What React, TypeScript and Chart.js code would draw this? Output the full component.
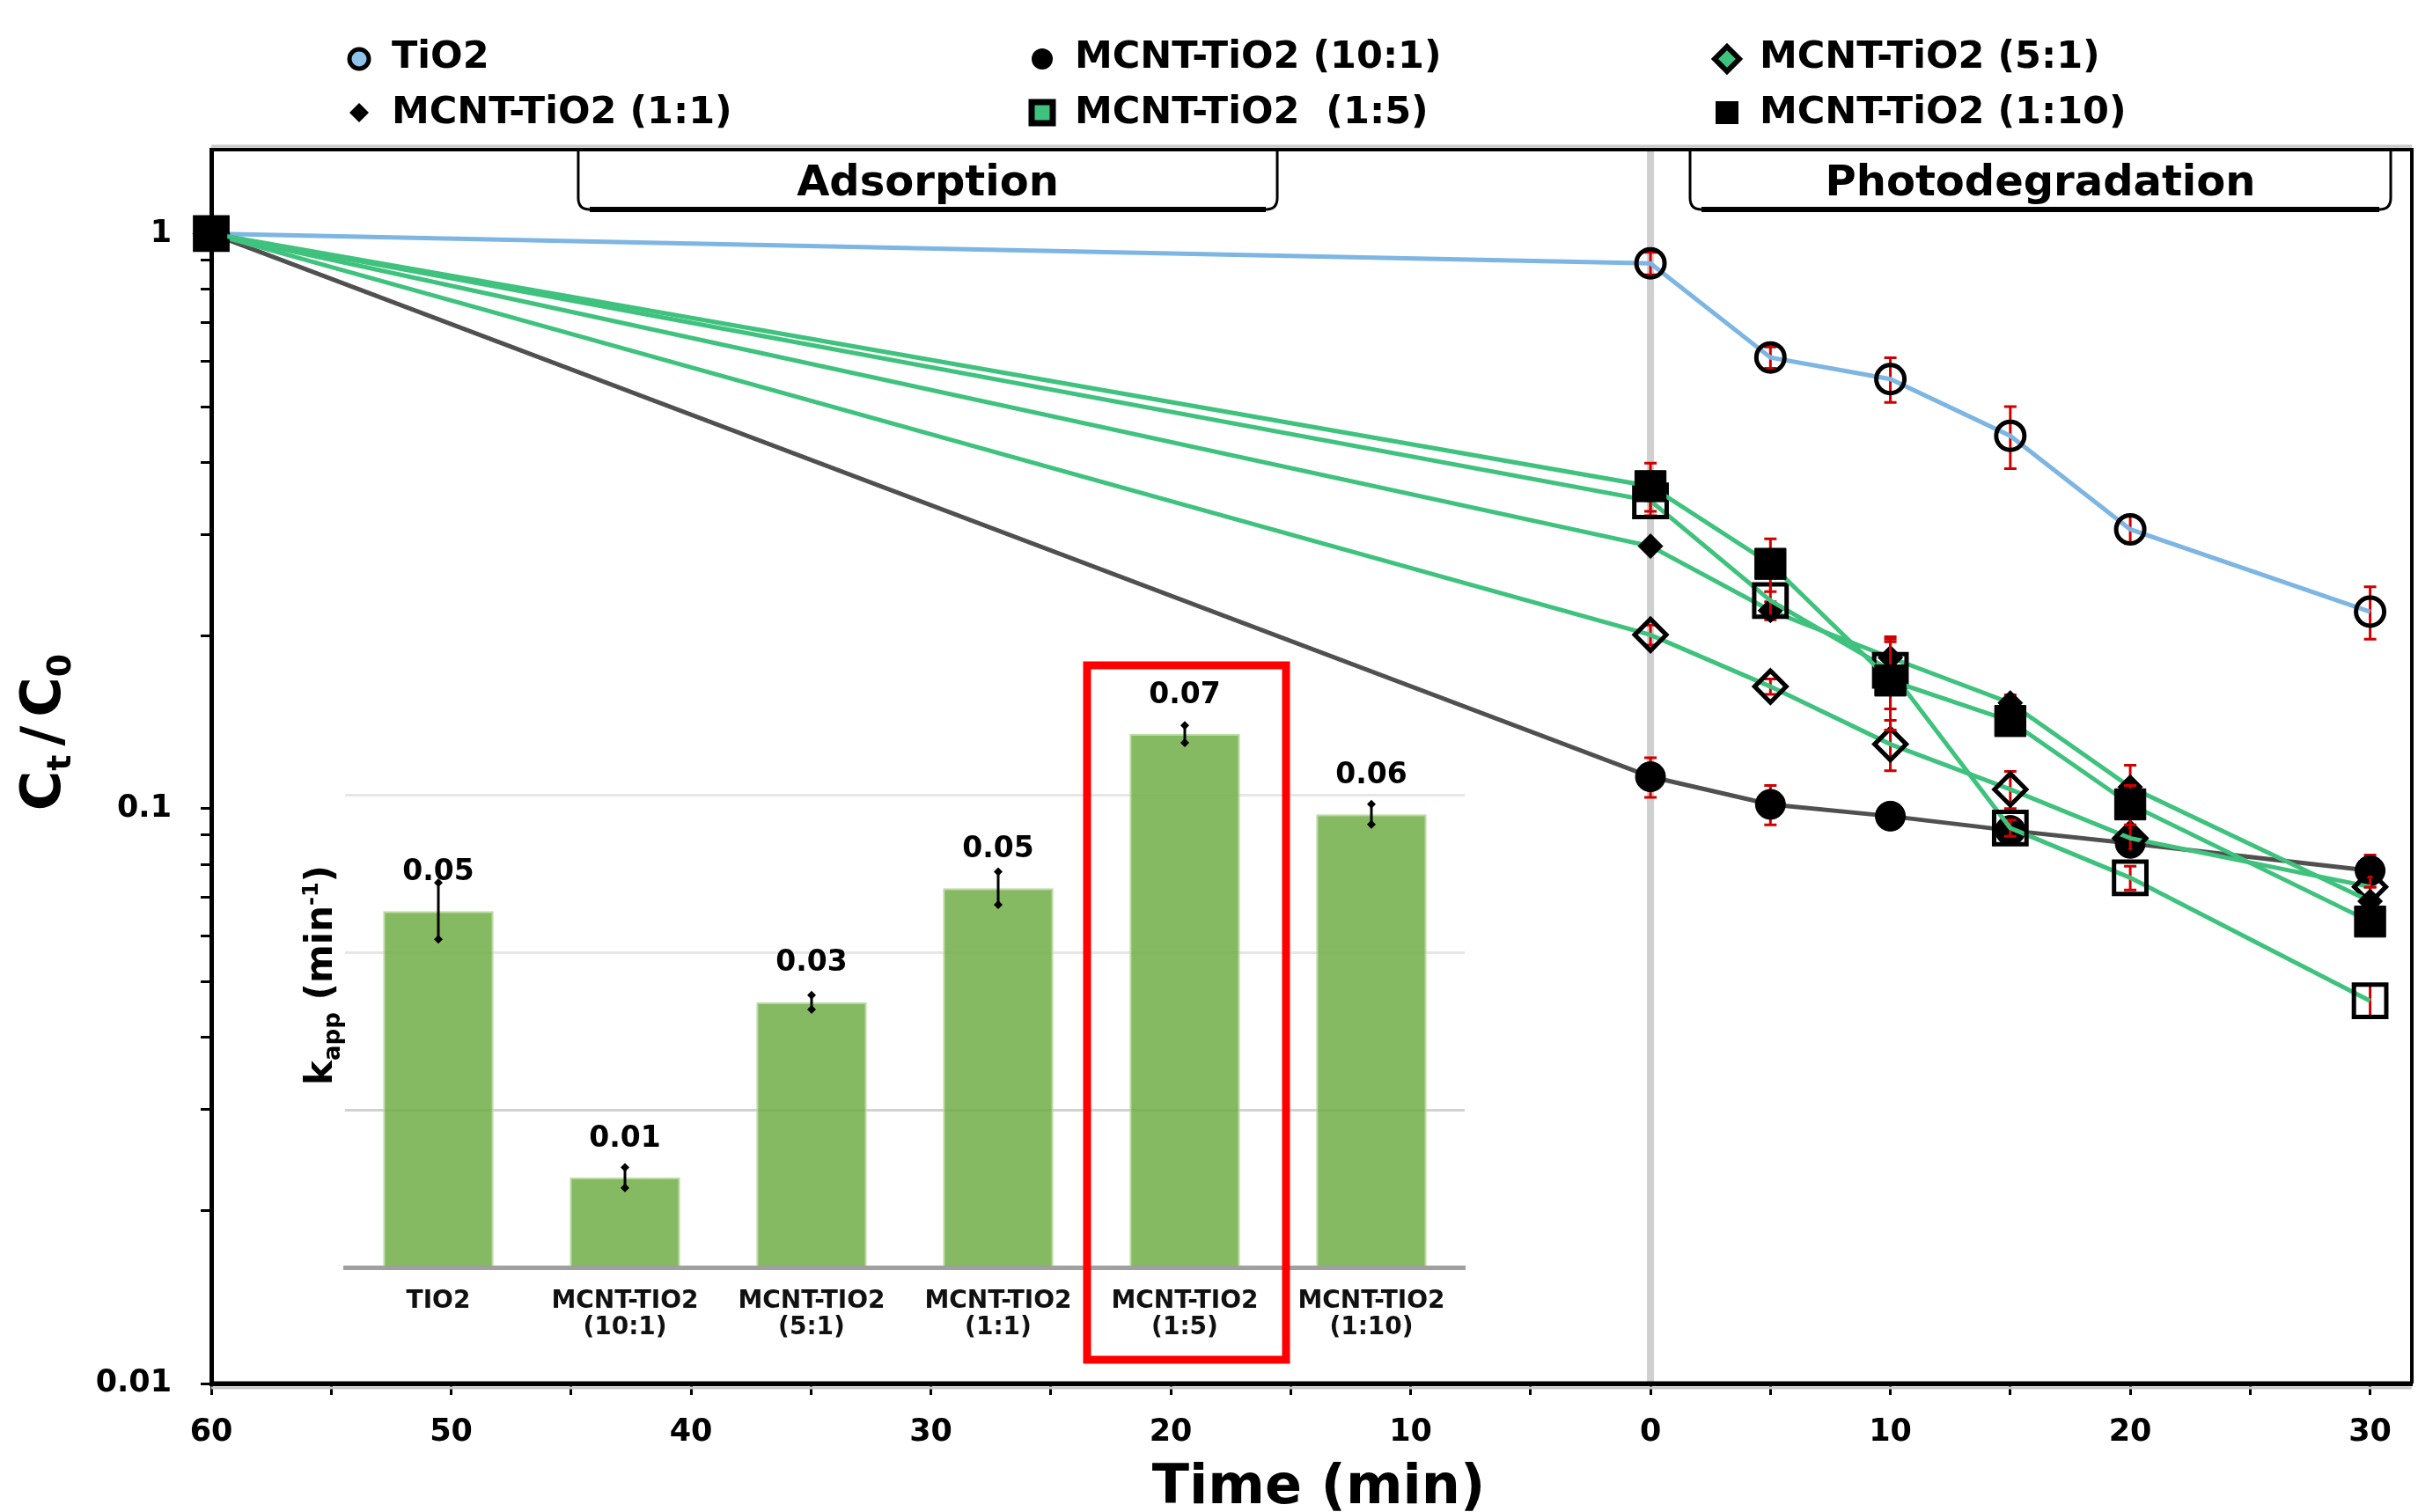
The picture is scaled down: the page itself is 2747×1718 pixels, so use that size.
import React, { useEffect, useRef } from 'react';
import { Chart, registerables } from 'chart.js';

Chart.register(...registerables);

const FONT = '"DejaVu Sans", "Liberation Sans", sans-serif';
const W = 2747;
const H = 1718;
// Chart.js keeps a minimum padding equal to the largest marker overflow (31px);
// the canvas is made a little wider so the plot frame still ends at x = 2740.
const CANVAS_W = 2771;

// ---------- main chart data ----------
const timeMin = [-60, 0, 5, 10, 15, 20, 30];
const seriesNames = [
  'TiO2',
  'MCNT-TiO2 (10:1)',
  'MCNT-TiO2 (5:1)',
  'MCNT-TiO2 (1:1)',
  'MCNT-TiO2  (1:5)',
  'MCNT-TiO2 (1:10)',
];
const tio2 = [1, 0.888, 0.609, 0.5585, 0.445, 0.306, 0.22];
const mcnt10to1 = [1, 0.1136, 0.1017, 0.097, 0.0916, 0.087, 0.078];
const mcnt5to1 = [1, 0.2005, 0.163, 0.1294, 0.108, 0.0888, 0.0731];
const mcnt1to1 = [1, 0.286, 0.221, 0.183, 0.1527, 0.109, 0.069];
const mcnt1to5 = [1, 0.343, 0.23, 0.174, 0.0925, 0.0758, 0.0463];
const mcnt1to10 = [1, 0.3637, 0.2665, 0.167, 0.142, 0.1017, 0.0636];

const tio2Err = [0, 0.04, 0.026, 0.05, 0.055, 0.017, 0.023];
const mcnt10to1Err = [0, 0.009, 0.008, 0, 0, 0, 0.005];
const mcnt5to1Err = [0, 0.008, 0.005, 0.013, 0.008, 0.004, 0.003];
const mcnt1to1Err = [0, 0.005, 0.008, 0.012, 0.005, 0.01, 0.004];
const mcnt1to5Err = [0, 0.02, 0.015, 0.025, 0.003, 0.0036, 0.003];
const mcnt1to10Err = [0, 0.035, 0.028, 0.03, 0.005, 0.008, 0.003];

const seriesValues = [tio2, mcnt10to1, mcnt5to1, mcnt1to1, mcnt1to5, mcnt1to10];
const seriesErrors = [tio2Err, mcnt10to1Err, mcnt5to1Err, mcnt1to1Err, mcnt1to5Err, mcnt1to10Err];

const xTickValues = [-60, -55, -50, -45, -40, -35, -30, -25, -20, -15, -10, -5, 0, 5, 10, 15, 20, 25, 30];
const yTickValues = [0.01, 0.02, 0.03, 0.04, 0.05, 0.06, 0.07, 0.08, 0.09, 0.1, 0.2, 0.3, 0.4, 0.5, 0.6, 0.7, 0.8, 0.9, 1];
const yLabelValues = [0.01, 0.1, 1];

const phaseLabels = ['Adsorption', 'Photodegradation'];
const phaseStart = [-44.7, 1.65];
const phaseEnd = [-15.56, 30.86];

// ---------- inset data ----------
const kappCategories = [
  ['TIO2'],
  ['MCNT-TIO2', '(10:1)'],
  ['MCNT-TIO2', '(5:1)'],
  ['MCNT-TIO2', '(1:1)'],
  ['MCNT-TIO2', '(1:5)'],
  ['MCNT-TIO2', '(1:10)'],
];
const kappValues = [0.0453, 0.0114, 0.0337, 0.0482, 0.0678, 0.0576];
const kappErrors = [0.0036, 0.0013, 0.0009, 0.0021, 0.0011, 0.0013];
const kappLabels = ['0.05', '0.01', '0.03', '0.05', '0.07', '0.06'];
const kappGridValues = [0, 0.02, 0.04, 0.06];
const highlightIndex = 4;

// ---------- styles ----------
const GREEN = '#3fc27d';
const seriesStyles = [
  { line: '#7db5e3', pointStyle: 'circle', radius: 16, fill: 'rgba(0,0,0,0)', bw: 5, order: 6, lw: 5 },
  { line: '#505050', pointStyle: 'circle', radius: 17, fill: '#000', bw: 1, order: 5, lw: 5 },
  { line: GREEN, pointStyle: 'rectRot', radius: 18, fill: 'rgba(0,0,0,0)', bw: 5, order: 4, lw: 5 },
  { line: GREEN, pointStyle: 'rectRot', radius: 14, fill: '#000', bw: 1, order: 3, lw: 5 },
  { line: GREEN, pointStyle: 'rect', radius: 26, fill: 'rgba(0,0,0,0)', bw: 5, order: 2, lw: 5 },
  { line: GREEN, pointStyle: 'rect', radius: 25, fill: '#000', bw: 1, order: 1, lw: 5 },
];
const legendMarkers = [
  { kind: 'circle', r: 11, fill: '#8fc3ea', lw: 5 },
  { kind: 'circle', r: 12, fill: '#000', lw: 0 },
  { kind: 'rectRot', r: 14, fill: GREEN, lw: 6 },
  { kind: 'rectRot', r: 11, fill: '#000', lw: 0 },
  { kind: 'rect', r: 12, fill: GREEN, lw: 7 },
  { kind: 'rect', r: 13, fill: '#000', lw: 0 },
];
const legendColX = [408, 1184, 1962];
const legendRowY = [67, 128];
const legendBaseline = [77, 140];

function drawMarker(ctx: CanvasRenderingContext2D, kind: string, x: number, y: number, r: number, fill: string, lw: number) {
  ctx.save();
  ctx.beginPath();
  if (kind === 'circle') ctx.arc(x, y, r, 0, Math.PI * 2);
  else if (kind === 'rectRot') {
    ctx.moveTo(x, y - r);
    ctx.lineTo(x + r, y);
    ctx.lineTo(x, y + r);
    ctx.lineTo(x - r, y);
    ctx.closePath();
  } else ctx.rect(x - r, y - r, 2 * r, 2 * r);
  ctx.fillStyle = fill;
  ctx.fill();
  if (lw > 0) {
    ctx.lineWidth = lw;
    ctx.strokeStyle = '#000';
    ctx.stroke();
  }
  ctx.restore();
}

type Part = { t: string; size: number; dy: number; gap?: number };
function drawRotatedParts(ctx: CanvasRenderingContext2D, parts: Part[], bx: number, cy: number) {
  ctx.save();
  ctx.translate(bx, cy);
  ctx.rotate(-Math.PI / 2);
  ctx.fillStyle = '#000';
  ctx.textBaseline = 'alphabetic';
  ctx.textAlign = 'left';
  let total = 0;
  parts.forEach((p) => {
    ctx.font = `bold ${p.size}px ${FONT}`;
    total += ctx.measureText(p.t).width + (p.gap || 0);
  });
  let x = -total / 2;
  parts.forEach((p) => {
    ctx.font = `bold ${p.size}px ${FONT}`;
    ctx.fillText(p.t, x, p.dy);
    x += ctx.measureText(p.t).width + (p.gap || 0);
  });
  ctx.restore();
}

const mainPlugin = {
  id: 'mainDecor',
  beforeDatasetsDraw(chart: any) {
    const { ctx, chartArea } = chart;
    const x0 = chart.scales.x.getPixelForValue(0);
    ctx.save();
    ctx.strokeStyle = '#d0d0d0';
    ctx.lineWidth = 8;
    ctx.beginPath();
    ctx.moveTo(x0, chartArea.top);
    ctx.lineTo(x0, chartArea.bottom);
    ctx.stroke();
    ctx.restore();
  },
  beforeDatasetDraw(chart: any, args: any) {
    const i = args.index;
    const vals = seriesValues[i];
    const errs = seriesErrors[i];
    const { ctx } = chart;
    const xs = chart.scales.x;
    const ys = chart.scales.y;
    ctx.save();
    ctx.strokeStyle = '#d00000';
    ctx.lineWidth = 3;
    timeMin.forEach((t, j) => {
      const e = errs[j];
      if (!e) return;
      const x = xs.getPixelForValue(t);
      const y1 = ys.getPixelForValue(vals[j] + e);
      const y2 = ys.getPixelForValue(Math.max(vals[j] - e, 0.0001));
      ctx.beginPath();
      ctx.moveTo(x, y1);
      ctx.lineTo(x, y2);
      ctx.moveTo(x - 7, y1);
      ctx.lineTo(x + 7, y1);
      ctx.moveTo(x - 7, y2);
      ctx.lineTo(x + 7, y2);
      ctx.stroke();
    });
    ctx.restore();
  },
  afterDatasetsDraw(chart: any) {
    const { ctx, chartArea } = chart;
    const xs = chart.scales.x;
    phaseLabels.forEach((label, i) => {
      const x0 = xs.getPixelForValue(phaseStart[i]);
      const x1 = xs.getPixelForValue(phaseEnd[i]);
      const top = chartArea.top;
      const bottom = top + 68;
      const r = 13;
      ctx.save();
      ctx.beginPath();
      ctx.moveTo(x0, top);
      ctx.lineTo(x0, bottom - r);
      ctx.quadraticCurveTo(x0, bottom, x0 + r, bottom);
      ctx.lineTo(x1 - r, bottom);
      ctx.quadraticCurveTo(x1, bottom, x1, bottom - r);
      ctx.lineTo(x1, top);
      ctx.fillStyle = '#fff';
      ctx.fill();
      ctx.strokeStyle = '#000';
      ctx.lineWidth = 3;
      ctx.stroke();
      ctx.beginPath();
      ctx.moveTo(x0 + r, bottom);
      ctx.lineTo(x1 - r, bottom);
      ctx.lineWidth = 6;
      ctx.stroke();
      ctx.fillStyle = '#000';
      ctx.font = `bold 48px ${FONT}`;
      ctx.textAlign = 'center';
      ctx.textBaseline = 'alphabetic';
      ctx.fillText(label, (x0 + x1) / 2, top + 52);
      ctx.restore();
    });
  },
  afterDraw(chart: any) {
    const { ctx, chartArea } = chart;
    ctx.save();
    ctx.strokeStyle = '#c8c8c8';
    ctx.lineWidth = 3;
    ctx.beginPath();
    ctx.moveTo(chartArea.left, chartArea.top - 4);
    ctx.lineTo(chartArea.right, chartArea.top - 4);
    ctx.moveTo(chartArea.left, chartArea.bottom + 5);
    ctx.lineTo(chartArea.right, chartArea.bottom + 5);
    ctx.stroke();
    ctx.strokeStyle = '#000';
    ctx.lineWidth = 4;
    ctx.beginPath();
    ctx.moveTo(chartArea.left - 2, chartArea.top);
    ctx.lineTo(chartArea.right, chartArea.top);
    ctx.lineTo(chartArea.right, chartArea.bottom);
    ctx.stroke();
    ctx.lineWidth = 5;
    ctx.beginPath();
    ctx.moveTo(chartArea.left - 2, chartArea.bottom);
    ctx.lineTo(chartArea.right, chartArea.bottom);
    ctx.stroke();

    // legend
    seriesNames.forEach((name, i) => {
      const col = i % 3;
      const row = Math.floor(i / 3);
      const m = legendMarkers[i];
      const mx = legendColX[col];
      drawMarker(ctx, m.kind, mx, legendRowY[row], m.r, m.fill, m.lw);
      ctx.fillStyle = '#000';
      ctx.font = `bold 43px ${FONT}`;
      ctx.textAlign = 'left';
      ctx.textBaseline = 'alphabetic';
      ctx.fillText(name, mx + 37, legendBaseline[row]);
    });

    ctx.font = `bold 62px ${FONT}`;
    ctx.textAlign = 'center';
    ctx.textBaseline = 'alphabetic';
    ctx.fillStyle = '#000';
    ctx.fillText('Time (min)', (chartArea.left + chartArea.right) / 2 + 8, 1708);
    ctx.restore();

    drawRotatedParts(
      ctx,
      [
        { t: 'C', size: 62, dy: 0 },
        { t: 't', size: 38, dy: 12, gap: 10 },
        { t: '/', size: 62, dy: 0, gap: 10 },
        { t: 'C', size: 62, dy: 0 },
        { t: '0', size: 38, dy: 12 },
      ],
      68,
      832
    );
  },
};

const insetPlugin = {
  id: 'insetDecor',
  afterDatasetsDraw(chart: any) {
    const { ctx } = chart;
    const meta = chart.getDatasetMeta(0);
    const ys = chart.scales.y;
    ctx.save();
    meta.data.forEach((bar: any, i: number) => {
      const x = bar.x;
      const v = kappValues[i];
      const e = kappErrors[i];
      const yt = ys.getPixelForValue(v + e);
      const yb = ys.getPixelForValue(v - e);
      ctx.strokeStyle = '#000';
      ctx.lineWidth = 3;
      ctx.beginPath();
      ctx.moveTo(x, yt);
      ctx.lineTo(x, yb);
      ctx.stroke();
      drawMarker(ctx, 'rectRot', x, yt, 5, '#000', 0);
      drawMarker(ctx, 'rectRot', x, yb, 5, '#000', 0);
      ctx.fillStyle = '#000';
      ctx.font = `bold 33px ${FONT}`;
      ctx.textAlign = 'center';
      ctx.textBaseline = 'middle';
      ctx.fillText(kappLabels[i], x, ys.getPixelForValue(v) - 44);
    });
    ctx.restore();
  },
  afterDraw(chart: any) {
    const { ctx, chartArea } = chart;
    const xs = chart.scales.x;
    const cx = xs.getPixelForValue(highlightIndex) + 2;
    ctx.save();
    ctx.strokeStyle = '#ff0000';
    ctx.lineWidth = 9;
    ctx.strokeRect(cx - 113, chartArea.top + 22, 226, chartArea.bottom - chartArea.top + 83);
    ctx.restore();
    drawRotatedParts(
      ctx,
      [
        { t: 'k', size: 42, dy: 0 },
        { t: 'app', size: 26, dy: 9, gap: 14 },
        { t: '(min', size: 42, dy: 0 },
        { t: '-1', size: 24, dy: -16 },
        { t: ')', size: 42, dy: 0 },
      ],
      77,
      408
    );
  },
};

export default function App() {
  const mainRef = useRef<HTMLCanvasElement>(null);
  const insetRef = useRef<HTMLCanvasElement>(null);

  useEffect(() => {
    const datasets = seriesNames.map((name, i) => {
      const s = seriesStyles[i];
      return {
        label: name,
        data: timeMin.map((t, j) => ({ x: t, y: seriesValues[i][j] })),
        showLine: true,
        borderColor: s.line,
        borderWidth: s.lw,
        pointStyle: s.pointStyle,
        pointRadius: s.radius,
        pointHoverRadius: s.radius,
        pointBackgroundColor: s.fill,
        pointBorderColor: '#000',
        pointBorderWidth: s.bw,
        order: s.order,
        clip: false,
        tension: 0,
      };
    });

    const main = new Chart(mainRef.current as HTMLCanvasElement, {
      type: 'scatter',
      data: { datasets } as any,
      options: {
        responsive: false,
        animation: false,
        events: [],
        layout: { padding: { top: 170, right: 31, left: 0, bottom: 0 } },
        plugins: { legend: { display: false }, tooltip: { enabled: false } },
        scales: {
          x: {
            type: 'linear',
            min: -60,
            max: 31.74,
            afterBuildTicks: (s: any) => {
              s.ticks = xTickValues.map((v) => ({ value: v }));
            },
            afterFit: (s: any) => {
              s.height = H - 1572;
              s.paddingLeft = 0;
              s.paddingRight = 0;
            },
            ticks: {
              autoSkip: false,
              maxRotation: 0,
              padding: 22,
              color: '#000',
              font: { family: FONT, size: 35, weight: 'bold' },
              callback: (v: any) => (Number(v) % 10 === 0 ? String(Math.abs(Number(v))) : ''),
            },
            grid: { drawOnChartArea: false, drawTicks: true, tickLength: 13, tickColor: '#000', tickWidth: 3 },
            border: { display: true, color: '#000', width: 5 },
          },
          y: {
            type: 'logarithmic',
            min: 0.01,
            max: 1.4,
            afterBuildTicks: (s: any) => {
              s.ticks = yTickValues.map((v) => ({ value: v }));
            },
            afterFit: (s: any) => {
              s.width = 240;
              s.paddingTop = 0;
              s.paddingBottom = 0;
            },
            ticks: {
              autoSkip: false,
              padding: 33,
              color: '#000',
              font: { family: FONT, size: 35, weight: 'bold' },
              callback: (v: any) => {
                const n = Number(v);
                return yLabelValues.some((l) => Math.abs(l - n) / l < 1e-6) ? String(n) : '';
              },
            },
            grid: { drawOnChartArea: false, drawTicks: true, tickLength: 12, tickColor: '#000', tickWidth: 3 },
            border: { display: true, color: '#000', width: 5 },
          },
        },
      } as any,
      plugins: [mainPlugin],
    });

    const inset = new Chart(insetRef.current as HTMLCanvasElement, {
      type: 'bar',
      data: {
        labels: kappCategories,
        datasets: [
          {
            data: kappValues,
            backgroundColor: 'rgba(112,173,71,0.85)',
            borderColor: 'rgba(180,215,155,0.9)',
            borderWidth: 2,
            categoryPercentage: 0.8,
            barPercentage: 0.74,
          },
        ],
      } as any,
      options: {
        responsive: false,
        animation: false,
        events: [],
        layout: { padding: { top: 34, right: 36, left: 0, bottom: 0 } },
        plugins: { legend: { display: false }, tooltip: { enabled: false } },
        scales: {
          x: {
            afterFit: (s: any) => {
              s.height = 140;
              s.paddingLeft = 0;
              s.paddingRight = 0;
            },
            grid: { display: false, drawTicks: false },
            border: { display: true, color: '#a0a0a0', width: 5 },
            ticks: {
              color: '#111',
              font: { family: FONT, size: 28, weight: 'bold', lineHeight: 1.1 },
              padding: 23,
              maxRotation: 0,
              autoSkip: false,
            },
          },
          y: {
            min: 0,
            max: 0.079,
            afterBuildTicks: (s: any) => {
              s.ticks = kappGridValues.map((v) => ({ value: v }));
            },
            afterFit: (s: any) => {
              s.width = 92;
              s.paddingTop = 0;
              s.paddingBottom = 0;
            },
            ticks: { display: false },
            grid: {
              color: (c: any) => (c.tick && c.tick.value === 0 ? 'rgba(0,0,0,0)' : c.tick && Math.abs(c.tick.value - 0.02) < 1e-9 ? '#d2d2d2' : '#e6e6e6'),
              lineWidth: 3,
              drawTicks: false,
            },
            border: { display: false },
          },
        },
      } as any,
      plugins: [insetPlugin],
    });

    return () => {
      main.destroy();
      inset.destroy();
    };
  }, []);

  return (
    <div style={{ position: 'fixed', left: 0, top: 0, width: W, height: H, background: '#fff', overflow: 'hidden' }}>
      <canvas
        ref={mainRef}
        width={CANVAS_W}
        height={H}
        style={{ position: 'absolute', left: 0, top: 0, width: CANVAS_W, height: H }}
      />
      <canvas
        ref={insetRef}
        width={1400}
        height={880}
        style={{ position: 'absolute', left: 300, top: 700, width: 1400, height: 880 }}
      />
    </div>
  );
}
